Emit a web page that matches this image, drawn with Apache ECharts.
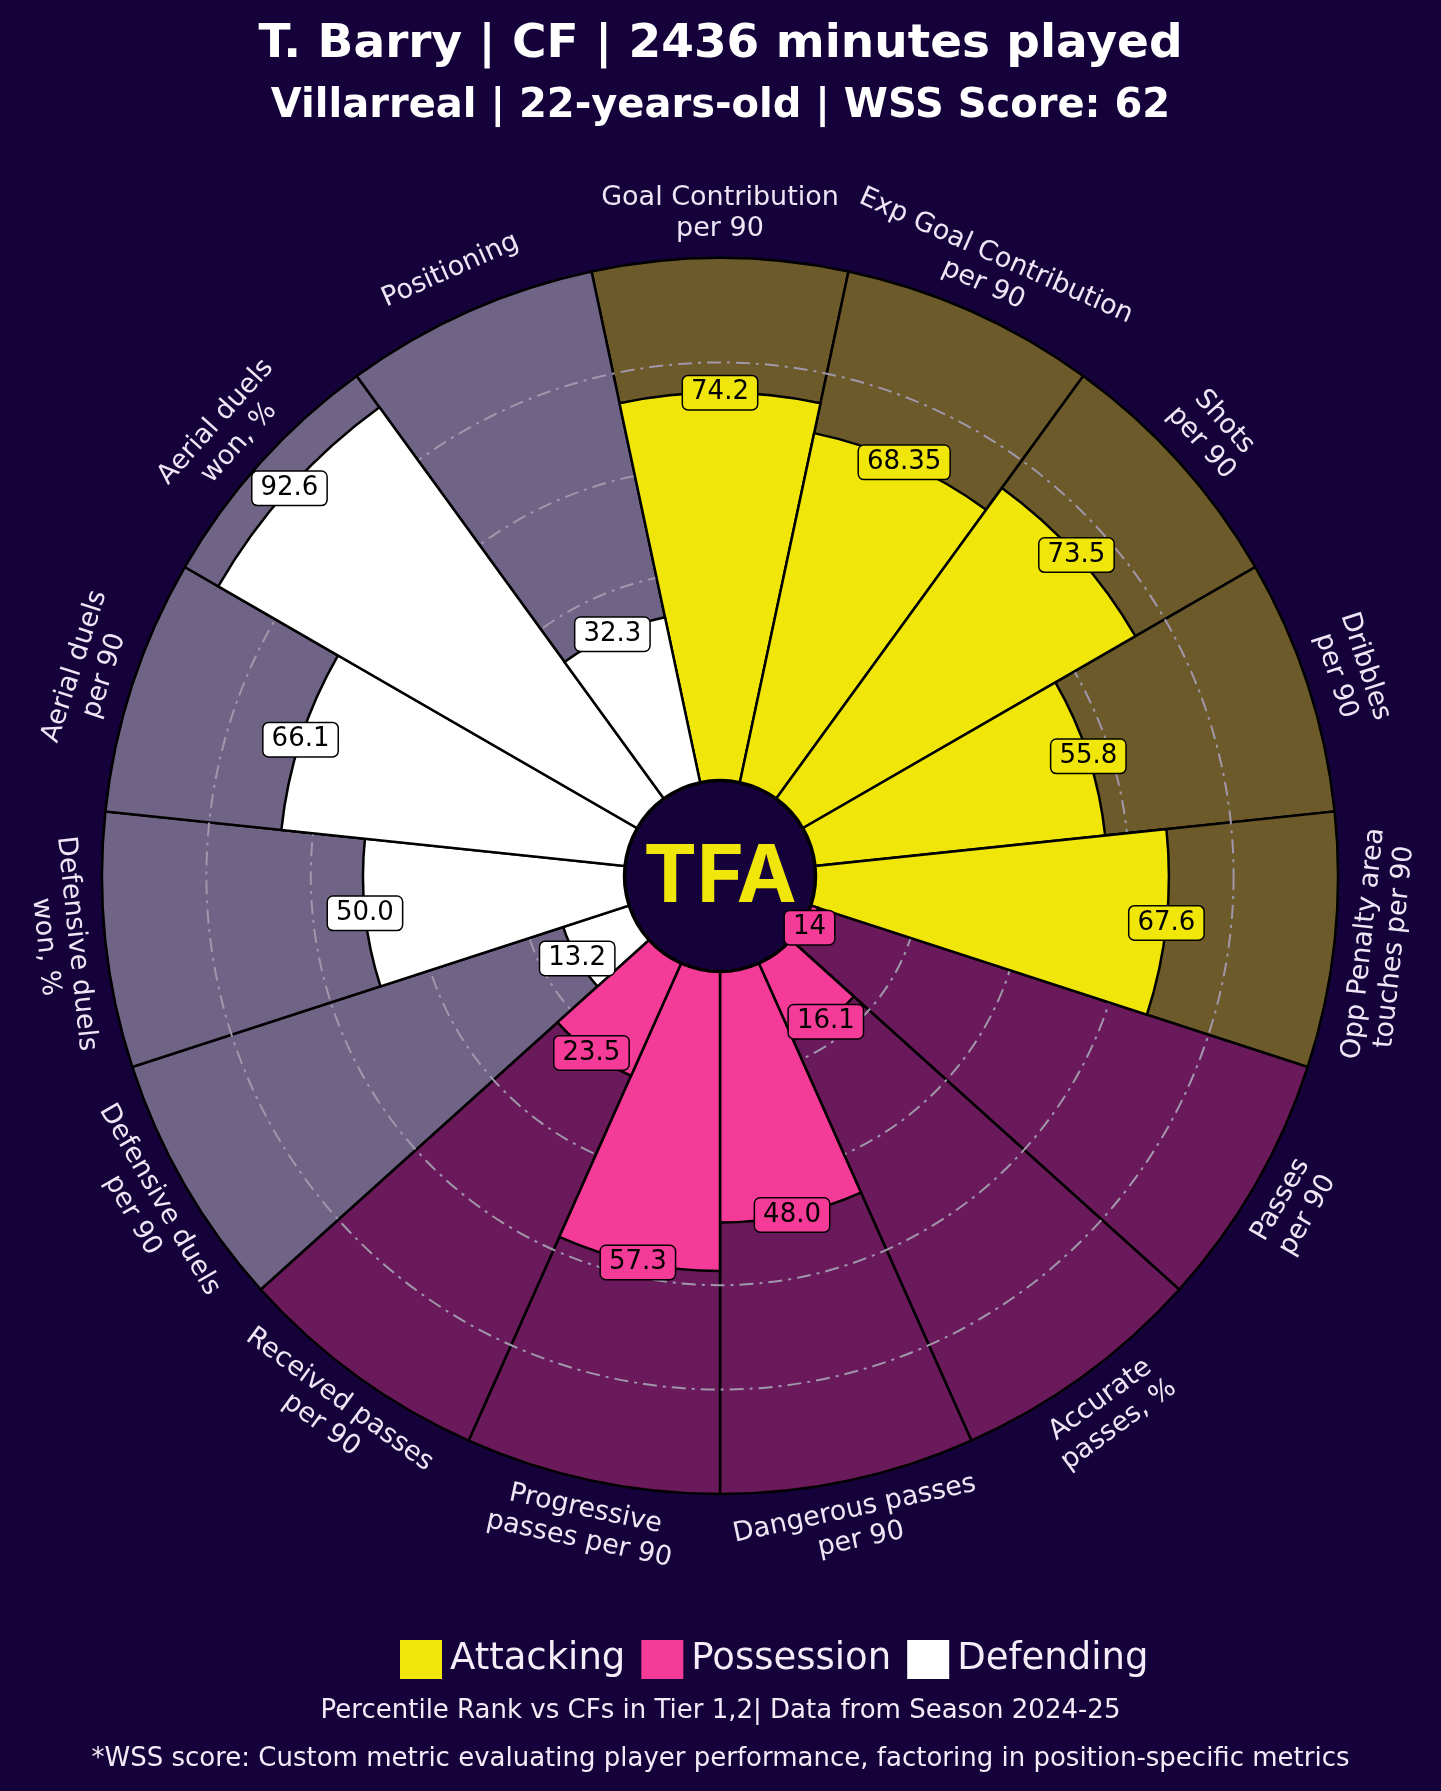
<!DOCTYPE html>
<html>
<head>
<meta charset="utf-8">
<title>T. Barry pizza</title>
<script src="https://cdn.jsdelivr.net/npm/echarts@6/dist/echarts.min.js"></script>
<style>
  html, body { margin: 0; padding: 0; background: #15023a; }
  #chart { width: 1441px; height: 1791px; }
</style>
</head>
<body>
<div id="chart"></div>
<script>
// pizza chart - percentile ranks

var categories = [
    'Goal Contribution\nper 90', 'Exp Goal Contribution\nper 90', 'Shots\nper 90', 'Dribbles\nper 90',
    'Opp Penalty area\ntouches per 90', 'Passes\nper 90', 'Accurate\npasses, %', 'Dangerous passes\nper 90',
    'Progressive\npasses per 90', 'Received passes\nper 90', 'Defensive duels\nper 90', 'Defensive duels\nwon, %',
    'Aerial duels\nper 90', 'Aerial duels\nwon, %', 'Positioning'
];
var groups = [
    'Attacking', 'Attacking', 'Attacking', 'Attacking', 'Attacking',
    'Possession', 'Possession', 'Possession', 'Possession', 'Possession',
    'Defending', 'Defending', 'Defending', 'Defending', 'Defending'
];
var values = [74.2, 68.35, 73.5, 55.8, 67.6, 1.4, 16.1, 48.0, 57.3, 23.5, 13.2, 50.0, 66.1, 92.6, 32.3];
var valueLabels = ['74.2', '68.35', '73.5', '55.8', '67.6', '14', '16.1', '48.0', '57.3', '23.5', '13.2', '50.0', '66.1', '92.6', '32.3'];
var groupNames = ['Attacking', 'Possession', 'Defending'];

var TITLE = 'T. Barry | CF | 2436 minutes played';
var SUBTITLE = 'Villarreal | 22-years-old | WSS Score: 62';
var NOTE_1 = 'Percentile Rank vs CFs in Tier 1,2| Data from Season 2024-25';
var NOTE_2 = '*WSS score: Custom metric evaluating player performance, factoring in position-specific metrics';

var BG = '#15023a';
var FONT = 'DejaVu Sans';
var mainColor = { Attacking: '#f0e60a', Possession: '#f43b98', Defending: '#ffffff' };
var softColor = { Attacking: '#6c5a2a', Possession: '#6a195b', Defending: '#6f6386' };
var LABEL_R = 108.6; // param names sit just outside the ring

var chart = echarts.init(document.getElementById('chart'));

// fond (100) de chaque part
var bgData = categories.map(function (c, i) {
    return { value: 100, itemStyle: { color: softColor[groups[i]] } };
});

var barSeries = groupNames.map(function (g) {
    return {
        name: g,
        type: 'bar',
        coordinateSystem: 'polar',
        barCategoryGap: '0%',
        barGap: '-100%',
        z: 4,
        silent: true,
        itemStyle: { color: mainColor[g], borderColor: '#000', borderWidth: 2.5 },
        data: values.map(function (v, i) { return groups[i] === g ? v : '-'; })
    };
});

// value boxes at the end of each bar
var valueBoxes = values.map(function (v, i) {
    return {
        value: [v, i],
        label: { formatter: valueLabels[i], backgroundColor: mainColor[groups[i]] }
    };
});

// param names, rotated along the ring
var nameLabels = categories.map(function (c, i) {
    var a = 90 - 24 * i;
    while (a <= -180) a += 360;
    var rot = a > 0 ? a - 90 : a + 90;
    return { value: [LABEL_R, i], label: { formatter: c, rotate: rot } };
});

var option = {
    backgroundColor: BG,
    animation: false,
    title: [
        { text: TITLE, left: 'center', top: 16, textStyle: { color: '#ffffff', fontFamily: FONT, fontSize: 47, fontWeight: 'bold' } },
        { text: SUBTITLE, left: 'center', top: 82, textStyle: { color: '#ffffff', fontFamily: FONT, fontSize: 40, fontWeight: 'bold' } },
        { text: NOTE_1, left: 'center', top: 1693, textStyle: { color: '#f1ecf7', fontFamily: FONT, fontSize: 26, fontWeight: 'normal' } },
        { text: NOTE_2, left: 'center', top: 1741, textStyle: { color: '#f1ecf7', fontFamily: FONT, fontSize: 26, fontWeight: 'normal' } }
    ],
    legend: {
        data: groupNames,
        left: 395,
        top: 1635,
        icon: 'rect',
        itemWidth: 42,
        itemHeight: 39,
        itemGap: 16,
        selectedMode: false,
        itemStyle: { borderWidth: 0 },
        textStyle: { color: '#f3eef8', fontFamily: FONT, fontSize: 37, padding: [0, 0, 0, 3] }
    },
    polar: {
        center: [720, 876],
        radius: [96, 618]
    },
    angleAxis: {
        type: 'category',
        data: categories,
        startAngle: 102,
        clockwise: true,
        axisLine: { show: false },
        axisTick: { show: false },
        axisLabel: { show: false },
        splitLine: { show: false }
    },
    radiusAxis: {
        type: 'value',
        min: 0,
        max: 100,
        interval: 20,
        z: 3,
        axisLine: { show: false },
        axisTick: { show: false },
        axisLabel: { show: false },
        splitLine: {
            show: true,
            lineStyle: {
                color: ['rgba(0,0,0,0)', '#a097aa', '#a097aa', '#a097aa', '#a097aa', 'rgba(0,0,0,0)'],
                width: 2,
                type: [14, 6, 3, 6]
            }
        }
    },
    graphic: [
        { type: 'circle', z: 6, silent: true, shape: { cx: 720, cy: 876, r: 95 }, style: { fill: BG, stroke: '#000', lineWidth: 2.5 } },
        { type: 'text', z: 7, silent: true, x: 720, y: 878, style: { text: 'TFA', fill: '#f0e60a', font: 'bold 80px Inter', align: 'center', verticalAlign: 'middle' } }
    ],
    series: [
        {
            name: 'base',
            type: 'bar',
            coordinateSystem: 'polar',
            barCategoryGap: '0%',
            barGap: '-100%',
            z: 2,
            silent: true,
            itemStyle: { borderColor: '#000', borderWidth: 2.5 },
            data: bgData
        }
    ].concat(barSeries).concat([
        {
            name: 'values',
            type: 'scatter',
            coordinateSystem: 'polar',
            clip: false,
            z: 10,
            silent: true,
            symbolSize: 1,
            itemStyle: { color: 'rgba(0,0,0,0)', opacity: 1 },
            label: {
                show: true,
                position: 'inside',
                color: '#000',
                fontFamily: FONT,
                fontSize: 26,
                borderColor: '#000',
                borderWidth: 1.5,
                borderRadius: 5,
                padding: [4, 8, 3, 8]
            },
            data: valueBoxes
        },
        {
            name: 'params',
            type: 'scatter',
            coordinateSystem: 'polar',
            clip: false,
            z: 10,
            silent: true,
            symbolSize: 1,
            itemStyle: { color: 'rgba(0,0,0,0)', opacity: 1 },
            label: {
                show: true,
                position: 'inside',
                color: '#ece6f5',
                fontFamily: FONT,
                fontSize: 27,
                lineHeight: 31,
                align: 'center',
                verticalAlign: 'middle'
            },
            data: nameLabels
        }
    ])
};

chart.setOption(option);
</script>
</body>
</html>
